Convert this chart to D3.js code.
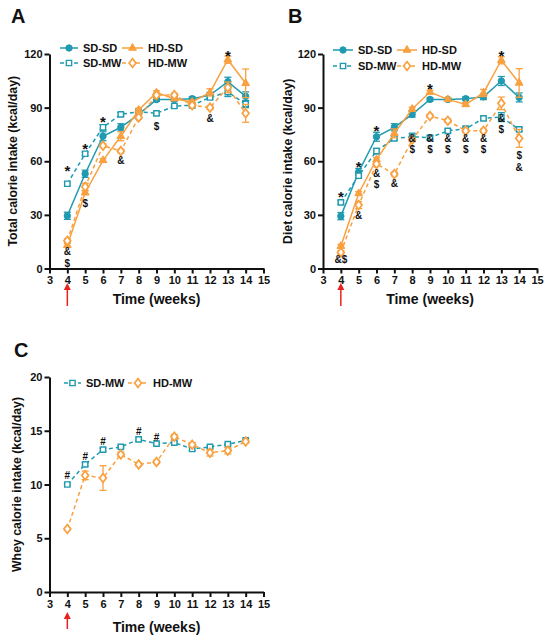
<!DOCTYPE html>
<html lang="en">
<head>
<meta charset="UTF-8">
<title>Calorie intake</title>
<script src="https://d3js.org/d3.v7.min.js"></script>
<style>
  body { margin: 0; background: #fff; }
  svg text { font-family: "Liberation Sans", Arial, sans-serif; font-weight: bold; fill: #111; }
</style>
</head>
<body>
<script>
// weeks on the x axis
var weeks = [4, 5, 6, 7, 8, 9, 10, 11, 12, 13, 14];
var xTicks = [3, 4, 5, 6, 7, 8, 9, 10, 11, 12, 13, 14, 15];

// Panel A - total calorie intake (kcal/day)
var totalSDSD = [29.5, 53, 74, 79, 86.2, 94.5, 94.5, 95, 97, 104.5, 96.3];
var totalSDSDErr = [2, 2, 2.5, 2, 1.5, 1, 1, 1, 1.5, 2.5, 2.5];
var totalSDMW = [47.4, 64.2, 79, 86.2, 87.7, 86.8, 90.9, 91.3, 95.7, 98.7, 92];
var totalSDMWErr = [1, 1, 1.5, 1, 1, 1, 1, 1, 1, 2.5, 2];
var totalHDSD = [13, 42.4, 60.5, 74, 88.7, 98.4, 95, 93.1, 98.5, 116.8, 103.6];
var totalHDSDErr = [1, 1, 1, 2.5, 1, 1, 1, 1, 2, 2, 8];
var totalHDMW = [15.5, 45.7, 68.7, 65.7, 84.5, 97, 97, 91.3, 90, 101.3, 86.8];
var totalHDMWErr = [1, 2, 1, 1, 1, 1, 1, 1, 1, 3, 5];
var totalMarks = [
  {w: 4, v: 56.9, t: "*"}, {w: 5, v: 69, t: "*"}, {w: 6, v: 84, t: "*"}, {w: 13, v: 121.3, t: "*"},
  {w: 4, v: 9.3, t: "&"}, {w: 4, v: 2.8, t: "$"}, {w: 5, v: 36.4, t: "$"},
  {w: 7, v: 60.7, t: "&"}, {w: 9, v: 79.7, t: "$"}, {w: 12, v: 84, t: "&"}
];

// Panel B - diet calorie intake (kcal/day)
var dietSDSD = [29.3, 54, 73.7, 79, 86.2, 94.6, 94.6, 95, 96, 104.9, 95.7];
var dietSDSDErr = [2, 2, 2.5, 2, 1.5, 1, 1, 1, 1.5, 2.5, 2.5];
var dietSDMW = [37, 51.9, 65.7, 72.8, 73.7, 73.2, 77, 78.2, 84, 84.7, 77.8];
var dietSDMWErr = [1, 1, 1.5, 1, 2, 1, 1, 1, 1, 2.5, 1];
var dietHDSD = [12.5, 42, 61, 75.6, 89.2, 98.7, 94.6, 91.8, 98.2, 116.5, 103.8];
var dietHDSDErr = [1, 1, 1, 2.5, 1, 1, 1, 1, 2, 2, 8];
var dietHDMW = [9, 35.5, 58.5, 52.8, 72, 85.3, 82.7, 77, 77, 92.4, 72.8];
var dietHDMWErr = [1, 2, 1, 1, 1, 1, 1, 1, 1, 3.5, 5];
var dietMarks = [
  {w: 4, v: 42.4, t: "*"}, {w: 5, v: 58.8, t: "*"}, {w: 6, v: 79.3, t: "*"}, {w: 9, v: 102.6, t: "*"}, {w: 13, v: 121.3, t: "*"},
  {w: 4, v: 5, t: "&$"}, {w: 5, v: 29.9, t: "&"},
  {w: 6, v: 53.4, t: "&"}, {w: 6, v: 46.8, t: "$"}, {w: 7, v: 47.6, t: "&"},
  {w: 8, v: 73, t: "&"}, {w: 8, v: 66.6, t: "$"},
  {w: 9, v: 73, t: "&"}, {w: 9, v: 66.6, t: "$"},
  {w: 10, v: 73, t: "&"}, {w: 10, v: 66.6, t: "$"},
  {w: 11, v: 73, t: "&"}, {w: 11, v: 66.6, t: "$"},
  {w: 12, v: 73, t: "&"}, {w: 12, v: 66.6, t: "$"},
  {w: 13, v: 84, t: "&"}, {w: 13, v: 77.6, t: "$"},
  {w: 14, v: 63.3, t: "$"}, {w: 14, v: 56.7, t: "&"}
];

// Panel C - whey calorie intake (kcal/day)
var wheySDMW = [10, 11.87, 13.24, 13.5, 14.2, 13.8, 13.9, 13.3, 13.5, 13.75, 14.1];
var wheySDMWErr = [0.1, 0.15, 0.15, 0.1, 0.15, 0.1, 0.1, 0.15, 0.1, 0.1, 0.1];
var wheyHDMW = [5.86, 10.85, 10.6, 12.8, 11.87, 12.1, 14.45, 13.7, 12.95, 13.15, 14.0];
var wheyHDMWErr = [0.1, 0.4, 1.15, 0.2, 0.15, 0.15, 0.2, 0.2, 0.3, 0.3, 0.15];
var wheyMarks = [
  {w: 4, v: 10.85, t: "#"}, {w: 5, v: 12.65, t: "#"}, {w: 6, v: 14.05, t: "#"},
  {w: 8, v: 14.95, t: "#"}, {w: 9, v: 14.35, t: "#"}
];

var teal = "#1f9ab0", orange = "#f9a03f";

var styles = {
  "SD-SD": {color: teal, dash: null, shape: "circle", open: false},
  "SD-MW": {color: teal, dash: "4,3", shape: "square", open: true},
  "HD-SD": {color: orange, dash: null, shape: "triangle", open: false},
  "HD-MW": {color: orange, dash: "4,3", shape: "diamond", open: true}
};

var svg = d3.select("body").append("svg")
    .attr("width", 550)
    .attr("height", 641);

function symbolPath(shape) {
  if (shape == "circle") return d3.symbol(d3.symbolCircle, 32)();
  if (shape == "square") return d3.symbol(d3.symbolSquare, 28)();
  if (shape == "triangle") return d3.symbol(d3.symbolTriangle, 26)();
  return d3.symbol(d3.symbolDiamond, 22)();
}

function drawMarker(g, name, cx, cy) {
  var s = styles[name];
  g.append("path")
    .attr("d", symbolPath(s.shape))
    .attr("transform", "translate(" + cx + "," + cy + ")" + (s.shape == "diamond" ? " scale(1.35,1)" : ""))
    .attr("fill", s.open ? "#fff" : s.color)
    .attr("stroke", s.color)
    .attr("stroke-width", s.open ? 1.4 : 1);
}

function drawPanel(p) {
  var x = d3.scaleLinear().domain([3, 15]).range(p.xr);
  var y = d3.scaleLinear().domain(p.yd).range(p.yr);
  var g = svg.append("g");

  // axes
  var xa = g.append("g")
    .attr("transform", "translate(0," + p.yr[0] + ")")
    .call(d3.axisBottom(x).tickValues(xTicks).tickSize(5).tickSizeOuter(0).tickFormat(d3.format("d")));
  var ya = g.append("g")
    .attr("transform", "translate(" + p.xr[0] + ",0)")
    .call(d3.axisLeft(y).tickValues(p.yTicks).tickSize(5).tickSizeOuter(0));
  [xa, ya].forEach(function(a) {
    a.attr("font-family", null).attr("font-size", null);
    a.selectAll("path, line").attr("stroke", "#111").attr("stroke-width", 2);
    a.selectAll("text").style("font-size", "11px");
  });
  xa.selectAll("text").attr("y", 8);
  ya.selectAll("text").attr("x", -7);

  // axis titles
  g.append("text")
    .attr("x", (p.xr[0] + p.xr[1]) / 2)
    .attr("y", p.yr[0] + p.titleGap)
    .attr("text-anchor", "middle")
    .style("font-size", "14px")
    .text("Time (weeks)");
  g.append("text")
    .attr("transform", "translate(" + p.yTitleX + "," + (p.yr[0] + p.yr[1]) / 2 + ") rotate(-90)")
    .attr("text-anchor", "middle")
    .style("font-size", "12.3px")
    .text(p.yTitle);

  // panel letter
  g.append("text")
    .attr("x", p.letter[0]).attr("y", p.letter[1])
    .style("font-size", "20px")
    .text(p.label);

  // red arrow under week 4
  var ax = x(4);
  g.append("line")
    .attr("x1", ax).attr("x2", ax)
    .attr("y1", p.arrow[0] + 5).attr("y2", p.arrow[1])
    .attr("stroke", "#e8231f").attr("stroke-width", 1.5);
  g.append("path")
    .attr("d", "M" + ax + "," + p.arrow[0] + "L" + (ax - 3.5) + "," + (p.arrow[0] + 7) + "L" + (ax + 3.5) + "," + (p.arrow[0] + 7) + "Z")
    .attr("fill", "#e8231f");

  // series
  var line = d3.line().x(function(d) { return x(d.w); }).y(function(d) { return y(d.v); });
  p.series.forEach(function(s) {
    var st = styles[s.name];
    var pts = weeks.map(function(w, i) { return {w: w, v: s.values[i], e: s.err[i]}; });
    var eb = g.append("g").attr("stroke", st.color).attr("stroke-width", 1.3);
    pts.forEach(function(d) {
      eb.append("line").attr("x1", x(d.w)).attr("x2", x(d.w)).attr("y1", y(d.v - d.e)).attr("y2", y(d.v + d.e));
      eb.append("line").attr("x1", x(d.w) - 3.5).attr("x2", x(d.w) + 3.5).attr("y1", y(d.v - d.e)).attr("y2", y(d.v - d.e));
      eb.append("line").attr("x1", x(d.w) - 3.5).attr("x2", x(d.w) + 3.5).attr("y1", y(d.v + d.e)).attr("y2", y(d.v + d.e));
    });
    g.append("path")
      .datum(pts)
      .attr("d", line)
      .attr("fill", "none")
      .attr("stroke", st.color)
      .attr("stroke-width", 1.5)
      .attr("stroke-dasharray", st.dash);
    pts.forEach(function(d) { drawMarker(g, s.name, x(d.w), y(d.v)); });
  });

  // significance marks
  p.marks.forEach(function(m) {
    g.append("text")
      .attr("x", x(m.w))
      .attr("y", y(m.v))
      .attr("dy", m.t == "*" ? "0.6em" : "0.36em")
      .attr("text-anchor", "middle")
      .style("font-size", m.t == "*" ? "15px" : "10px")
      .text(m.t);
  });

  // legend
  p.legend.forEach(function(l) {
    var st = styles[l.name];
    g.append("line")
      .attr("x1", l.x).attr("x2", l.x + l.w)
      .attr("y1", l.y).attr("y2", l.y)
      .attr("stroke", st.color).attr("stroke-width", 1.5)
      .attr("stroke-dasharray", st.dash);
    drawMarker(g, l.name, l.x + l.w / 2, l.y);
    g.append("text")
      .attr("x", l.x + l.w + 5)
      .attr("y", l.y)
      .attr("dy", "0.36em")
      .style("font-size", "11px")
      .text(l.name);
  });
}

drawPanel({
  label: "A", letter: [11, 23],
  xr: [49.5, 263.5], yd: [0, 120], yr: [268.5, 54], yTicks: [0, 30, 60, 90, 120],
  yTitle: "Total calorie intake (kcal/day)", yTitleX: 17, titleGap: 35, arrow: [283, 306],
  series: [
    {name: "SD-SD", values: totalSDSD, err: totalSDSDErr},
    {name: "SD-MW", values: totalSDMW, err: totalSDMWErr},
    {name: "HD-SD", values: totalHDSD, err: totalHDSDErr},
    {name: "HD-MW", values: totalHDMW, err: totalHDMWErr}
  ],
  marks: totalMarks,
  legend: [
    {name: "SD-SD", x: 60, y: 48, w: 18}, {name: "HD-SD", x: 122, y: 48, w: 21},
    {name: "SD-MW", x: 60, y: 63, w: 18}, {name: "HD-MW", x: 122, y: 63, w: 21}
  ]
});

drawPanel({
  label: "B", letter: [288, 23],
  xr: [323, 537], yd: [0, 120], yr: [268.5, 54], yTicks: [0, 30, 60, 90, 120],
  yTitle: "Diet calorie intake (kcal/day)", yTitleX: 292, titleGap: 35, arrow: [283, 306],
  series: [
    {name: "SD-SD", values: dietSDSD, err: dietSDSDErr},
    {name: "SD-MW", values: dietSDMW, err: dietSDMWErr},
    {name: "HD-SD", values: dietHDSD, err: dietHDSDErr},
    {name: "HD-MW", values: dietHDMW, err: dietHDMWErr}
  ],
  marks: dietMarks,
  legend: [
    {name: "SD-SD", x: 333, y: 50, w: 20}, {name: "HD-SD", x: 397, y: 50, w: 20},
    {name: "SD-MW", x: 333, y: 66, w: 20}, {name: "HD-MW", x: 397, y: 66, w: 20}
  ]
});

drawPanel({
  label: "C", letter: [14, 357],
  xr: [49.5, 263.5], yd: [0, 20], yr: [592, 377], yTicks: [0, 5, 10, 15, 20],
  yTitle: "Whey calorie intake (kcal/day)", yTitleX: 21, titleGap: 40, arrow: [612, 629],
  series: [
    {name: "SD-MW", values: wheySDMW, err: wheySDMWErr},
    {name: "HD-MW", values: wheyHDMW, err: wheyHDMWErr}
  ],
  marks: wheyMarks,
  legend: [
    {name: "SD-MW", x: 64, y: 383, w: 17}, {name: "HD-MW", x: 128, y: 383, w: 20}
  ]
});
</script>
</body>
</html>
